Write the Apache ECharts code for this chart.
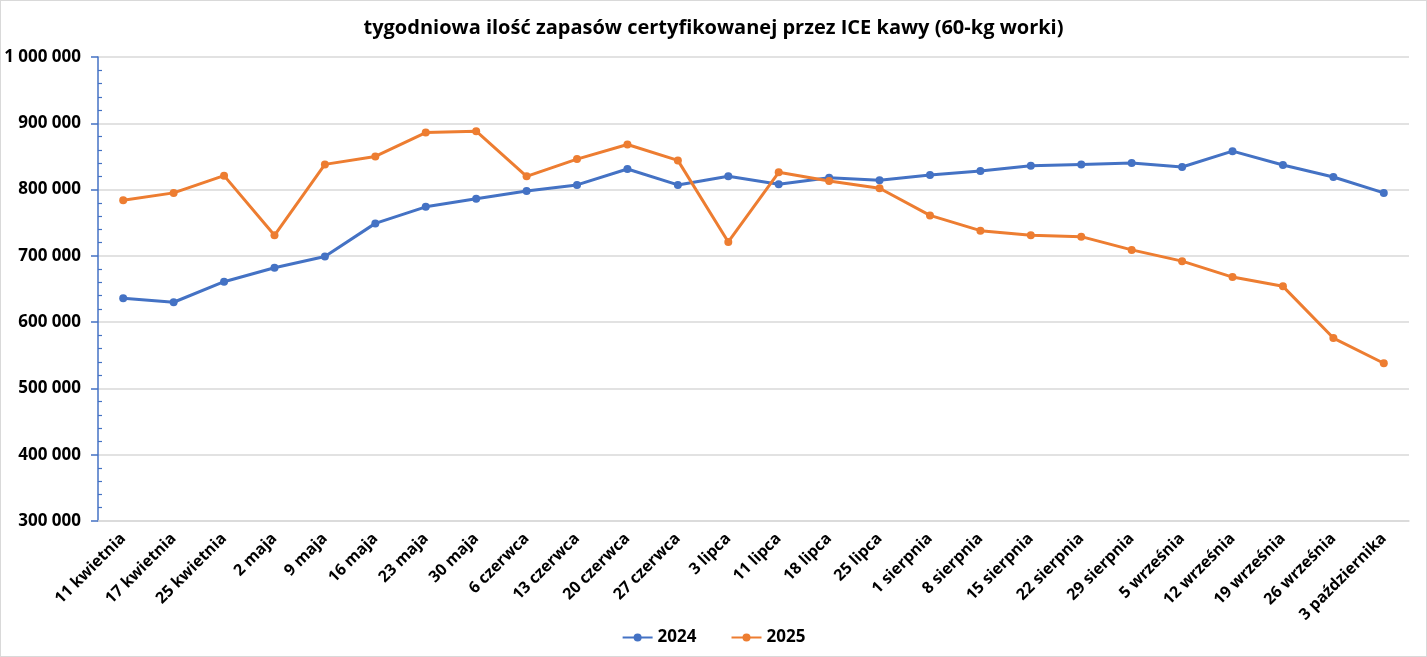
<!DOCTYPE html>
<html>
<head>
<meta charset="utf-8">
<script src="https://cdn.jsdelivr.net/npm/echarts@6/dist/echarts.min.js"></script>
<style>
html, body { margin: 0; padding: 0; background: #fff; }
#chart { width: 1425px; height: 655px; border: 1px solid #d9d9d9; }
</style>
</head>
<body>
<div id="chart"></div>
<script>
var weeks = ['11 kwietnia', '17 kwietnia', '25 kwietnia', '2 maja', '9 maja', '16 maja', '23 maja', '30 maja',
    '6 czerwca', '13 czerwca', '20 czerwca', '27 czerwca', '3 lipca', '11 lipca', '18 lipca', '25 lipca',
    '1 sierpnia', '8 sierpnia', '15 sierpnia', '22 sierpnia', '29 sierpnia', '5 września', '12 września',
    '19 września', '26 września', '3 października'];

var stock2024 = [636000, 630000, 661000, 682000, 699000, 749000, 774000, 786000,
    798000, 807000, 831000, 807000, 820000, 808000, 818000, 814000,
    822000, 828000, 836000, 838000, 840000, 834000, 858000,
    837000, 819000, 795000];

var stock2025 = [784000, 795000, 821000, 731000, 838000, 850000, 886000, 888000,
    820000, 846000, 868000, 844000, 721000, 826000, 813000, 802000,
    761000, 738000, 731000, 729000, 709000, 692000, 668000,
    654000, 576000, 538000];

var seriesNames = ['2024', '2025'];

function fmt(v) {
    return String(v).replace(/\B(?=(\d{3})+(?!\d))/g, ' ');
}

var font = 'Open Sans';
var myChart = echarts.init(document.getElementById('chart'));
var option = {
    animation: false,
    title: {
        text: 'tygodniowa ilość zapasów certyfikowanej przez ICE kawy (60-kg worki)',
        left: 'center',
        top: 12,
        textStyle: { fontFamily: font, fontSize: 20, fontWeight: 'bold', color: '#000' }
    },
    legend: {
        bottom: 5,
        left: 'center',
        itemWidth: 30,
        itemHeight: 10,
        itemGap: 34,
        data: seriesNames,
        textStyle: { fontFamily: font, fontSize: 17, fontWeight: 'bold', color: '#000' }
    },
    grid: { left: 97, right: 17, top: 56, bottom: 135, containLabel: false },
    xAxis: {
        type: 'category',
        data: weeks,
        boundaryGap: true,
        axisLine: { lineStyle: { color: '#d9d9d9', width: 1.5 } },
        axisTick: { show: false },
        axisLabel: {
            rotate: 45, interval: 0, margin: 15,
            fontFamily: font, fontSize: 16, fontWeight: 'bold', color: '#000'
        }
    },
    yAxis: [
        {
            type: 'value',
            min: 300000,
            max: 1000000,
            interval: 100000,
            axisLine: { show: true, lineStyle: { color: '#4472c4', width: 1.5 } },
            axisTick: { show: true, length: 7, lineStyle: { color: '#4472c4', width: 1.5 } },
            splitLine: { lineStyle: { color: '#d9d9d9', width: 1.5 } },
            axisLabel: {
                margin: 17,
                fontFamily: font, fontSize: 17, fontWeight: 'bold', color: '#000',
                formatter: fmt
            }
        },
        {
            type: 'value',
            position: 'left',
            min: 300000,
            max: 1000000,
            interval: 100000,
            axisLine: { show: false },
            axisTick: { show: false, inside: true },
            minorTick: { show: true, splitNumber: 5, length: 4, lineStyle: { color: '#4472c4', width: 1.2 } },
            splitLine: { show: false },
            axisLabel: { show: false }
        }
    ],
    color: ['#4472c4', '#ed7d31'],
    series: [
        {
            name: seriesNames[0],
            type: 'line',
            data: stock2024,
            symbol: 'circle',
            symbolSize: 8,
            lineStyle: { width: 3 }
        },
        {
            name: seriesNames[1],
            type: 'line',
            data: stock2025,
            symbol: 'circle',
            symbolSize: 8,
            lineStyle: { width: 3 }
        }
    ]
};
myChart.setOption(option);
</script>
</body>
</html>
